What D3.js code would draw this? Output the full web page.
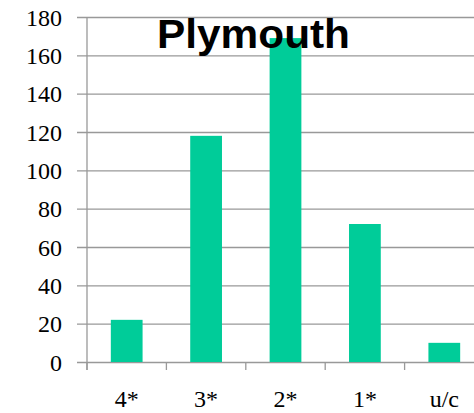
<!DOCTYPE html>
<html>
<head>
<meta charset="utf-8">
<script src="https://cdn.jsdelivr.net/npm/d3@7"></script>
<style>
  body { margin: 0; background: #fff; }
  svg { display: block; }
</style>
</head>
<body>
<div id="chart"></div>
<script>
// grades and counts
var categories = ["4*", "3*", "2*", "1*", "u/c"];
var counts = [22, 118, 169, 72, 10];
var yTicks = [0, 20, 40, 60, 80, 100, 120, 140, 160, 180];
var title = "Plymouth";

var width = 474, height = 413;
var plotLeft = 87, plotRight = 484, plotTop = 17, plotBottom = 362;
var serif = "'Liberation Serif', 'Times New Roman', serif";

var svg = d3.select("#chart").append("svg")
    .attr("width", width)
    .attr("height", height);

var x = d3.scaleBand()
    .domain(categories)
    .range([plotLeft, plotRight])
    .paddingInner(0.6)
    .paddingOuter(0.3);

var y = d3.scaleLinear()
    .domain([0, 180])
    .range([plotBottom, plotTop]);

// gridlines + left ticks
var yAxis = d3.axisLeft(y)
    .tickValues(yTicks)
    .tickSize(-(plotRight - plotLeft))
    .tickSizeOuter(0)
    .tickPadding(25)
    .tickFormat(d3.format("d"));

var gy = svg.append("g")
    .attr("transform", "translate(" + plotLeft + ",0)")
    .call(yAxis);
gy.select(".domain").remove();
gy.selectAll(".tick line")
    .attr("x1", -10)
    .attr("stroke", "#999")
    .attr("stroke-width", 1.3);
gy.selectAll(".tick text")
    .style("font-family", serif)
    .style("font-size", "24px")
    .style("fill", "#000")
    .attr("dy", "0.34em");

// bars
svg.selectAll(".bar")
    .data(counts)
    .enter().append("rect")
    .attr("class", "bar")
    .attr("x", function(d, i) { return x(categories[i]); })
    .attr("y", function(d) { return y(d); })
    .attr("width", x.bandwidth())
    .attr("height", function(d) { return y(0) - y(d); })
    .attr("fill", "#00CC99");

// y axis line
svg.append("line")
    .attr("x1", plotLeft).attr("x2", plotLeft)
    .attr("y1", plotTop).attr("y2", plotBottom + 8)
    .attr("stroke", "#999")
    .attr("stroke-width", 1.3);

// category separators on bottom
var seps = d3.range(categories.length + 1).map(function(i) {
  return plotLeft + i * (plotRight - plotLeft) / categories.length;
});
svg.selectAll(".sep")
    .data(seps)
    .enter().append("line")
    .attr("x1", function(d) { return d; })
    .attr("x2", function(d) { return d; })
    .attr("y1", plotBottom)
    .attr("y2", plotBottom + 8)
    .attr("stroke", "#999")
    .attr("stroke-width", 1.3);

// category labels
svg.selectAll(".cat")
    .data(categories)
    .enter().append("text")
    .attr("x", function(d) { return x(d) + x.bandwidth() / 2; })
    .attr("y", 407)
    .attr("text-anchor", "middle")
    .style("font-family", serif)
    .style("font-size", "24px")
    .style("fill", "#000")
    .text(function(d) { return d; });

// title
svg.append("text")
    .attr("x", 157)
    .attr("y", 48)
    .attr("font-family", "Liberation Sans, Arial, sans-serif")
    .attr("font-weight", "bold")
    .attr("font-size", 41)
    .attr("textLength", 193)
    .attr("lengthAdjust", "spacingAndGlyphs")
    .attr("fill", "#000")
    .text(title);
</script>
</body>
</html>
